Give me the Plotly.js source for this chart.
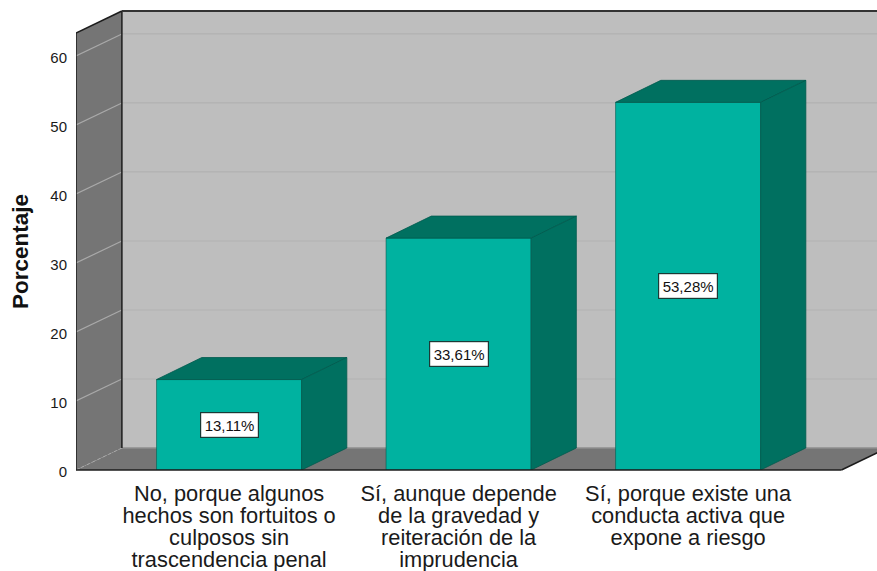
<!DOCTYPE html>
<html><head><meta charset="utf-8">
<script src="https://cdn.plot.ly/plotly-3.0.1.min.js"></script>
<style>html,body{margin:0;padding:0;background:#fff}</style></head>
<body><div id="chart" style="width:877px;height:571px"></div>
<script>
const categories = [
  "No, porque algunos<br>hechos son fortuitos o<br>culposos sin<br>trascendencia penal",
  "Sí, aunque depende<br>de la gravedad y<br>reiteración de la<br>imprudencia",
  "Sí, porque existe una<br>conducta activa que<br>expone a riesgo"
];
const values = [13.11, 33.61, 53.28];
const valueLabels = ["13,11%", "33,61%", "53,28%"];
const yTicks = [0, 10, 20, 30, 40, 50, 60];

const xMin = -0.667, xMax = 2.823, yMax = 63.33;
const floorRight = 2.668;
const depthX = 0.2, depthY = 3.19, barDepthX = 0.197, barW = 0.632;
const idx = categories.map((_, i) => i);
const P = v => v / yMax;   // value -> paper fraction (allows drawing above the front plane)

const FRONT = '#00b2a0', SIDE = '#007060', EDGE = '#005a4e';
const WALL = '#bebebe', DARK = '#757575', GRID_B = '#b1b1b1', GRID_L = '#a9a9a9', INK = '#1c1c1c';

function poly(xs, ys, fill, line) {
  return {type:'path', xref:'x', yref:'paper', layer:'below', fillcolor:fill,
    line: line ? {color:line, width:1} : {width:0},
    path: xs.map((x,i)=>(i?'L':'M')+x+','+P(ys[i])).join(' ')+' Z'};
}
function seg(x0,v0,x1,v1,color,width,layer,dash){
  return {type:'line', xref:'x', yref:'paper', x0, x1, y0:P(v0), y1:P(v1), layer:layer||'below',
    line:{color, width, dash:dash||'solid'}};
}
const xL = xMin, xB = xMin + depthX;
const shapes = [
  poly([xB,xMax+0.1,xMax+0.1,xB],[depthY,depthY,yMax+depthY,yMax+depthY],WALL),
  poly([xL,xB,xB,xL],[0,depthY,yMax+depthY,yMax],DARK),
  poly([xL,xB,floorRight+depthX,floorRight],[0,depthY,depthY,0],DARK),
];
yTicks.filter(t=>t>0).forEach(t=>{
  shapes.push(seg(xL,t,xB,t+depthY,GRID_L,1.2));
  shapes.push(seg(xB,t+depthY,xMax,t+depthY,GRID_B,1.2));
});
shapes.push(seg(xB,depthY,xMax,depthY,'#8e8e8e',1.5));
shapes.push(seg(xL,0,xB,depthY,'#a9a9a9',1,'below','dot'));
shapes.push(seg(xL,0,xL,yMax,INK,1.5));
shapes.push(seg(xB,depthY,xB,yMax+depthY,INK,1.5));
shapes.push(seg(xL,yMax,xB,yMax+depthY,INK,1.5));
shapes.push(seg(xB,yMax+depthY,xMax,yMax+depthY,'#333',2));
shapes.push(seg(xL,0,floorRight,0,INK,1.5,'above'));
shapes.push(seg(floorRight,0,floorRight+depthX,depthY,INK,1.5));

const traces = [{
  type:'bar', x:idx, y:values, width:barW, marker:{color:FRONT, line:{color:EDGE,width:0.6}},
  hoverinfo:'skip', showlegend:false
}];
idx.forEach(i=>{
  const l=i-barW/2, r=i+barW/2, v=values[i];
  traces.push({type:'scatter',mode:'lines',x:[l,r,r+barDepthX,l+barDepthX,l],y:[v,v,v+depthY,v+depthY,v],
    fill:'toself',fillcolor:SIDE,line:{color:EDGE,width:0.8},hoverinfo:'skip',showlegend:false});
  traces.push({type:'scatter',mode:'lines',x:[r,r+barDepthX,r+barDepthX,r,r],y:[0,depthY,v+depthY,v,0],
    fill:'toself',fillcolor:SIDE,line:{color:EDGE,width:0.8},hoverinfo:'skip',showlegend:false});
});

const annotations = idx.map(i=>({
  x:i, y:values[i]/2, xref:'x', yref:'y', text:valueLabels[i], showarrow:false,
  bgcolor:'#fff', bordercolor:'#1a3a36', borderwidth:1.2, borderpad:3.5,
  font:{family:'Liberation Sans',size:15,color:'#111'}
}));

Plotly.newPlot('chart', traces, {
  width:877, height:571, autosize:false,
  margin:{l:75.5,r:0,t:33,b:101,pad:0},
  paper_bgcolor:'#fff', plot_bgcolor:'rgba(0,0,0,0)',
  font:{family:'Liberation Sans',color:'#1a1a1a'},
  bargap:0, showlegend:false,
  xaxis:{range:[xMin,xMax], tickmode:'array', tickvals:idx, ticktext:categories, tickangle:0,
    showgrid:false, zeroline:false, showline:false, ticks:'', ticklabelstandoff:8,
    tickfont:{family:'Liberation Sans',size:21.8,color:'#1a1a1a'}},
  yaxis:{range:[0,yMax], tickmode:'array', tickvals:yTicks, showgrid:false, zeroline:false,
    showline:false, ticks:'', ticklabelstandoff:8, ticklabelshift:2,
    tickfont:{family:'Liberation Sans',size:15,color:'#1a1a1a'},
    title:{text:'<b>Porcentaje</b>', standoff:15, font:{family:'Liberation Sans',size:22.5,color:'#111'}}},
  shapes, annotations
}, {displayModeBar:false, staticPlot:true}).then(gd=>{
  // the reference sets its category labels with tight 22px leading
  gd.querySelectorAll('.xtick text tspan.line').forEach(t=>{
    const i = [...t.parentNode.querySelectorAll('tspan.line')].indexOf(t);
    t.setAttribute('dy', (i*22)+'px');
  });
});
</script></body></html>
